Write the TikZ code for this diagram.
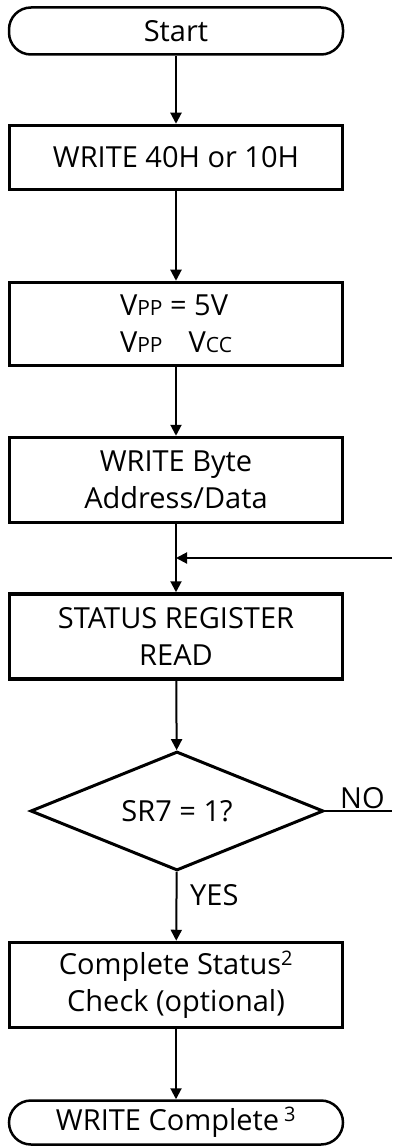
\documentclass[tikz,border=0pt]{standalone}
\usepackage{fontspec}
\setmainfont{Open Sans}
\usetikzlibrary{shapes.geometric,arrows.meta}
\tikzset{
  boxst/.style={draw, line width=3.5pt, minimum width=333pt, align=center, inner sep=0pt, font=\fontsize{29}{37}\selectfont},
  termst/.style={draw, line width=2.5pt, rounded corners=22pt, minimum width=334pt, inner sep=0pt, font=\fontsize{29}{37}\selectfont},
  decst/.style={draw, diamond, line width=3pt, aspect=2.46, minimum width=293pt, minimum height=119pt, inner sep=0pt, font=\fontsize{29}{34}\selectfont},
  flow/.style={line width=2pt, -{Triangle[length=11pt,width=11pt]}},
  plain/.style={line width=2pt},
  lbl/.style={font=\fontsize{29}{34}\selectfont, inner sep=0pt}
}
\newcommand{\smallcap}[1]{{\fontsize{21}{24}\selectfont #1}}
\begin{document}
\begin{tikzpicture}[x=1pt,y=-1pt]
\useasboundingbox (0,0) rectangle (392,1147);
\node[termst, minimum height=47pt] (start) at (176,31) {Start};
\node[boxst, minimum height=64pt] (b1) at (176,157.5) {WRITE 40H or 10H};
\node[boxst, align=left, minimum height=83pt] (b2) at (176,324) {V\smallcap{PP} = 5V\\V\smallcap{PP}\hspace{0.9em}V\smallcap{CC}};
\node[boxst, minimum height=85pt] (b3) at (176,480) {WRITE Byte\\Address/Data};
\node[boxst, minimum height=85pt] (b4) at (176,636.5) {STATUS REGISTER\\READ};
\node[decst] (d) at (177,811) {SR7 = 1?};
\node[boxst, minimum height=85pt] (b5) at (176,985) {Complete Status\textsuperscript{\fontsize{20}{24}\selectfont 2}\\Check (optional)};
\node[termst, minimum height=44pt] (end) at (176,1122.5) {WRITE Complete\,\textsuperscript{\fontsize{20}{24}\selectfont 3}};
\coordinate (j) at (b3.south |- 0,558);
\coordinate (ret) at (392,558);
\coordinate (noend) at (392,811);
\draw[flow] (start) -- (b1);
\draw[flow] (b1) -- (b2);
\draw[flow] (b2) -- (b3);
\draw[plain] (b3.south) -- (j);
\draw[flow] (j) -- (b4);
\draw[flow] (ret) -- (j);
\draw[flow] (b4) -- (d);
\draw[plain] (d.east) -- (noend);
\draw[flow] (d) -- (b5);
\draw[flow] (b5) -- (end);
\node[lbl, anchor=base west] (no) at (340,808) {NO};
\node[lbl, anchor=base west] (yes) at (190,905) {YES};
\end{tikzpicture}
\end{document}
